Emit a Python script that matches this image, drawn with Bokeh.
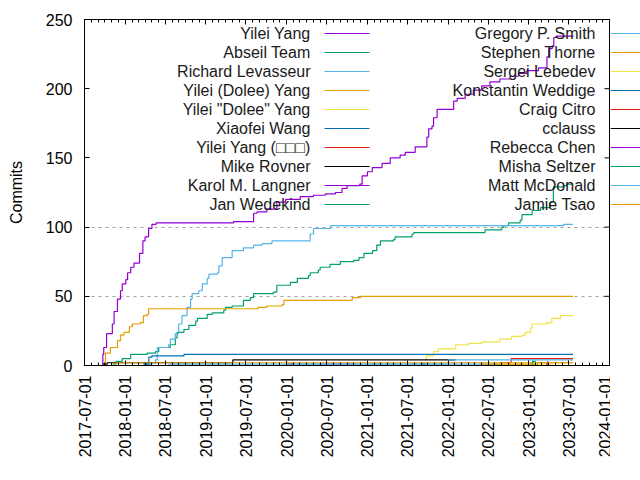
import math
import pandas as pd
from bokeh.plotting import figure
from bokeh.layouts import row
from bokeh.models import (Range1d, FixedTicker, DatetimeTickFormatter, DatetimeAxis,
                          Label, Arrow, CustomJSTickFormatter)
from bokeh.embed import file_html
from bokeh.resources import INLINE

# ---------------- data ----------------
authors = ["Yilei Yang", "Abseil Team", "Richard Levasseur", "Yilei (Dolee) Yang",
           'Yilei "Dolee" Yang', "Xiaofei Wang", "Yilei Yang (\u25a1\u25a1\u25a1)", "Mike Rovner",
           "Karol M. Langner", "Jan Wedekind", "Gregory P. Smith", "Stephen Thorne",
           "Sergei Lebedev", "Konstantin Weddige", "Craig Citro", "cclauss",
           "Rebecca Chen", "Misha Seltzer", "Matt McDonald", "Jamie Tsao"]

yilei_dates = ["2017-09-18", "2017-09-22", "2017-09-26", "2017-10-09", "2017-11-04", "2017-11-12",
               "2017-11-27", "2017-12-11", "2017-12-19", "2018-01-04", "2018-01-12", "2018-01-26",
               "2018-02-10", "2018-03-07", "2018-03-22", "2018-04-01", "2018-04-17", "2018-05-02",
               "2018-05-21", "2019-05-06", "2019-08-05", "2019-08-20", "2019-10-04", "2019-11-18",
               "2019-12-28", "2020-03-03", "2020-05-01", "2020-06-24", "2020-08-09", "2020-09-08",
               "2020-10-01", "2020-11-27", "2020-12-08", "2021-01-01", "2021-01-23", "2021-03-08",
               "2021-04-14", "2021-05-29", "2021-06-21", "2021-08-05", "2021-09-27", "2021-10-05",
               "2021-10-20", "2021-10-27", "2021-11-12", "2022-01-26", "2022-02-11", "2022-03-19",
               "2022-04-25", "2022-06-02", "2022-07-09", "2022-08-23", "2022-10-08", "2022-11-15",
               "2022-12-23", "2023-02-14", "2023-03-24", "2023-04-01", "2023-04-17", "2023-04-24",
               "2023-05-08", "2023-07-22"]
yilei_counts = [1, 8, 13, 23, 30, 39,
                48, 54, 59, 62, 67, 71,
                74, 81, 90, 93, 99, 102,
                103, 104, 110, 111, 113, 118,
                120, 122, 123, 124, 125, 128,
                130, 131, 137, 140, 143, 146,
                150, 152, 154, 158, 165, 171,
                173, 179, 185, 191, 193, 196,
                199, 202, 205, 207, 209, 211,
                213, 215, 223, 229, 231, 237,
                238, 238]

abseil_dates = ["2017-11-06", "2017-11-20", "2017-12-19", "2018-01-26", "2018-04-10", "2018-05-18",
                "2018-06-02", "2018-07-24", "2018-08-16", "2018-08-24", "2018-09-24", "2018-10-16",
                "2018-11-16", "2018-11-24", "2019-01-07", "2019-01-30", "2019-03-23", "2019-03-31",
                "2019-04-30", "2019-06-20", "2019-07-21", "2019-08-05", "2019-11-03", "2019-11-18",
                "2020-01-19", "2020-02-19", "2020-04-09", "2020-04-17", "2020-05-24", "2020-06-01",
                "2020-07-16", "2020-08-31", "2020-10-31", "2020-11-24", "2020-12-16", "2021-01-24",
                "2021-02-12", "2021-03-01", "2021-04-29", "2021-05-06", "2021-07-22", "2021-07-30",
                "2022-06-17", "2022-09-01", "2022-09-09", "2022-10-01", "2022-11-23", "2022-12-01",
                "2023-01-16", "2023-02-23", "2023-04-07", "2023-04-22", "2023-06-07", "2023-06-22",
                "2023-07-20"]
abseil_counts = [1, 3, 5, 8, 9, 10,
                 13, 15, 20, 24, 26, 29,
                 32, 34, 37, 38, 40, 42,
                 43, 47, 49, 52, 53, 58,
                 60, 63, 65, 67, 69, 71,
                 73, 75, 76, 78, 81, 83,
                 87, 90, 91, 93, 95, 96,
                 98, 100, 101, 103, 105, 109,
                 112, 114, 118, 129, 130, 131,
                 131]

richard_dates = ["2018-03-27", "2018-05-02", "2018-05-18", "2018-05-26", "2018-07-16", "2018-07-24",
                 "2018-08-16", "2018-08-31", "2018-09-15", "2018-10-08", "2018-10-24", "2018-10-31",
                 "2018-11-30", "2018-12-16", "2019-01-07", "2019-01-15", "2019-02-22", "2019-03-01",
                 "2019-03-16", "2019-04-30", "2019-06-20", "2019-08-05", "2019-09-12", "2019-10-27",
                 "2020-04-17", "2020-05-02", "2020-07-18", "2023-06-07", "2023-07-20"]
richard_counts = [1, 2, 4, 13, 15, 19,
                  23, 30, 36, 42, 48, 52,
                  54, 59, 63, 66, 67, 72,
                  78, 83, 85, 87, 88, 90,
                  95, 99, 101, 102, 102]

dolee_dates = ["2017-09-27", "2017-10-04", "2017-10-26", "2017-11-27", "2017-12-11", "2017-12-27",
               "2018-01-20", "2018-02-03", "2018-03-10", "2018-03-25", "2018-04-10", "2018-04-17",
               "2019-08-25", "2019-10-03", "2019-12-12", "2019-12-20", "2020-10-24", "2020-12-01",
               "2023-07-20"]
dolee_counts = [1, 9, 13, 18, 22, 24,
                28, 30, 31, 36, 37, 41,
                42, 43, 44, 47, 49, 50,
                50]

dolee_q_dates = ["2021-09-17", "2021-09-25", "2021-10-27", "2021-11-19", "2022-02-04", "2022-04-04",
                 "2022-06-03", "2022-08-23", "2022-10-15", "2022-12-01", "2022-12-16", "2023-01-08",
                 "2023-01-16", "2023-03-24", "2023-04-15", "2023-05-24", "2023-07-20"]
dolee_q_counts = [4, 7, 10, 12, 15, 16,
                  17, 19, 21, 22, 24, 27,
                  30, 31, 34, 36, 36]

xiaofei_dates = ["2018-03-27", "2018-04-18", "2018-05-02", "2018-09-24", "2023-07-20"]
xiaofei_counts = [2, 6, 7, 8, 8]

yilei_cjk_dates = ["2022-08-22", "2022-10-13", "2023-07-20"]
yilei_cjk_counts = [2, 5, 5]

mike_dates = ["2017-09-22", "2017-10-12", "2019-05-03", "2022-02-03"]
mike_counts = [1, 2, 4, 4]

karol_dates = ["2020-05-25", "2020-10-25"]
karol_counts = [1, 1]

jan_dates = ["2022-12-28", "2023-01-20"]
jan_counts = [1, 2]

gregory_dates = ["2020-01-15", "2022-01-01", "2023-07-20"]
gregory_counts = [1, 4, 4]

stephen_dates = ["2017-11-08", "2017-11-20", "2023-07-20"]
stephen_counts = [1, 2, 2]

sergei_dates = ["2022-08-23", "2023-04-20"]
sergei_counts = [1, 1]

konstantin_dates = ["2018-03-24", "2018-04-20"]
konstantin_counts = [1, 1]

craig_dates = ["2019-12-30", "2020-02-05"]
craig_counts = [1, 1]

cclauss_dates = ["2021-09-01", "2021-09-20"]
cclauss_counts = [1, 1]

rebecca_dates = ["2023-03-20", "2023-03-27"]
rebecca_counts = [1, 3]

misha_dates = ["2023-01-10", "2023-01-18", "2023-02-01"]
misha_counts = [1, 3, 3]

matt_dates = ["2018-07-15", "2022-08-23"]
matt_counts = [1, 1]

jamie_dates = ["2022-06-01", "2023-02-10", "2023-07-20"]
jamie_counts = [1, 2, 2]

series = [
    (yilei_dates, yilei_counts), (abseil_dates, abseil_counts), (richard_dates, richard_counts),
    (dolee_dates, dolee_counts), (dolee_q_dates, dolee_q_counts), (xiaofei_dates, xiaofei_counts),
    (yilei_cjk_dates, yilei_cjk_counts), (mike_dates, mike_counts), (karol_dates, karol_counts),
    (jan_dates, jan_counts), (gregory_dates, gregory_counts), (stephen_dates, stephen_counts),
    (sergei_dates, sergei_counts), (konstantin_dates, konstantin_counts), (craig_dates, craig_counts),
    (cclauss_dates, cclauss_counts), (rebecca_dates, rebecca_counts), (misha_dates, misha_counts),
    (matt_dates, matt_counts), (jamie_dates, jamie_counts),
]

palette = ["#9400d3", "#009e73", "#56b4e9", "#e69f00", "#f0e442", "#0072b2", "#e51e10", "#000000"]

x_start, x_end = "2017-07-01", "2024-01-01"
x_ticks = pd.date_range(x_start, x_end, freq="6MS")
x_minor = pd.date_range(x_start, x_end, freq="MS")
y_ticks = [0, 50, 100, 150, 200, 250]
grid_ticks = [50, 100]

FONT = "Liberation Sans"
FS = "16px"

# layout (canvas pixels)
W, H = 640, 480
BOX_L, BOX_R, BOX_T, BOX_B = 84, 609, 19, 365
MAIN_W = BOX_R + 1
X_STANDOFF = 10
fmt = "%Y-%m-%d"


def ms(ts):
    return [t.value / 1e6 for t in ts]


t0 = pd.Timestamp(x_start)
t1 = pd.Timestamp(x_end)

# ---------------- main figure ----------------
p = figure(width=MAIN_W, height=H, x_axis_type="datetime",
           x_range=Range1d(t0, t1), y_range=Range1d(0, 250),
           output_backend="svg", toolbar_location=None,
           min_border_left=BOX_L, min_border_right=MAIN_W - BOX_R, min_border_top=BOX_T,
           min_border_bottom=H - BOX_B)
p.background_fill_color = "white"
p.border_fill_color = "white"
p.outline_line_color = "black"
p.outline_line_width = 1

xt = FixedTicker(ticks=ms(x_ticks), minor_ticks=ms(x_minor))
yt = FixedTicker(ticks=y_ticks, minor_ticks=[])
dfmt = DatetimeTickFormatter(milliseconds=fmt, seconds=fmt, minsec=fmt, minutes=fmt, hourmin=fmt,
                             hours=fmt, days=fmt, months=fmt, years=fmt)

for ax in p.xaxis:
    ax.ticker = xt
    ax.formatter = dfmt
    ax.major_label_orientation = math.pi / 2
    ax.major_label_standoff = X_STANDOFF
for ax in p.yaxis:
    ax.ticker = yt
    ax.axis_label = "Commits"
    ax.axis_label_text_font_style = "normal"
    ax.axis_label_standoff = 18
    ax.major_label_standoff = 12

for ax in list(p.xaxis) + list(p.yaxis):
    ax.major_tick_in = 5
    ax.major_tick_out = 0
    ax.minor_tick_in = 3
    ax.minor_tick_out = 0
    ax.axis_line_color = "black"
    ax.major_tick_line_color = "black"
    ax.minor_tick_line_color = "black"
    ax.major_label_text_font = FONT
    ax.major_label_text_font_size = FS
    ax.major_label_text_color = "black"
    ax.axis_label_text_font = FONT
    ax.axis_label_text_font_size = FS
    ax.axis_label_text_color = "black"

blank = CustomJSTickFormatter(code="return ''")
top = DatetimeAxis(ticker=xt, formatter=blank, major_tick_in=5, major_tick_out=0,
                   minor_tick_in=3, minor_tick_out=0, major_label_standoff=0,
                   major_label_text_font_size="1px")
p.add_layout(top, "above")

p.xgrid.visible = False
p.ygrid.ticker = FixedTicker(ticks=grid_ticks, minor_ticks=[])
p.ygrid.grid_line_color = "#a0a0a0"
p.ygrid.grid_line_dash = "3 4"
p.ygrid.grid_line_width = 1

for i, (d, c) in enumerate(series):
    p.step(pd.to_datetime(d), c, mode="after", line_color=palette[i % 8], line_width=1.2)

# mirrored y ticks on the right edge, pointing inwards
p.ray(x=[t1] * len(y_ticks), y=y_ticks, length=5, length_units="screen", angle=math.pi,
      line_color="black", line_width=1)

# ---------------- strip right of the box (overhanging key samples) ----------------
SW = W - MAIN_W
strip = figure(width=SW, height=H, x_range=Range1d(0, SW), y_range=Range1d(BOX_B, BOX_T),
               output_backend="svg", toolbar_location=None, x_axis_location=None,
               y_axis_location=None, min_border=0)
strip.min_border_left = strip.min_border_right = strip.min_border_top = strip.min_border_bottom = 0
strip.outline_line_color = None
strip.grid.visible = False
strip.background_fill_color = "white"
strip.border_fill_color = "white"

# the last date label straddles the join: draw its right half from the strip
strip.add_layout(Label(x=BOX_R - MAIN_W, y=BOX_B + X_STANDOFF, x_units="data", y_units="data",
                       text=t1.strftime(fmt), angle=math.pi / 2, text_align="right",
                       text_baseline="middle", text_font=FONT, text_font_size=FS,
                       text_color="black"))

# ---------------- key (gnuplot-style: text then sample) ----------------
for i, name in enumerate(authors):
    col, r = divmod(i, 10)
    cy = 33 + 19 * r
    text_right = 310 if col == 0 else 595
    yk = BOX_B - cy
    p.add_layout(Label(x=text_right - BOX_L, y=yk, x_units="screen", y_units="screen",
                       text=name, text_align="right", text_baseline="middle",
                       text_font=FONT, text_font_size=FS, text_color="#1a1a1a"))
    if col == 0:
        p.add_layout(Arrow(end=None, x_start=324 - BOX_L, y_start=yk,
                           x_end=369 - BOX_L, y_end=yk,
                           start_units="screen", end_units="screen",
                           line_color=palette[i % 8], line_width=1.2))
    else:
        strip.segment(x0=[0], y0=[cy], x1=[608 + 45 - MAIN_W], y1=[cy],
                      line_color=palette[i % 8], line_width=1.2)

layout = row(p, strip, spacing=0)
open("out.html", "w").write(file_html(layout, INLINE))
